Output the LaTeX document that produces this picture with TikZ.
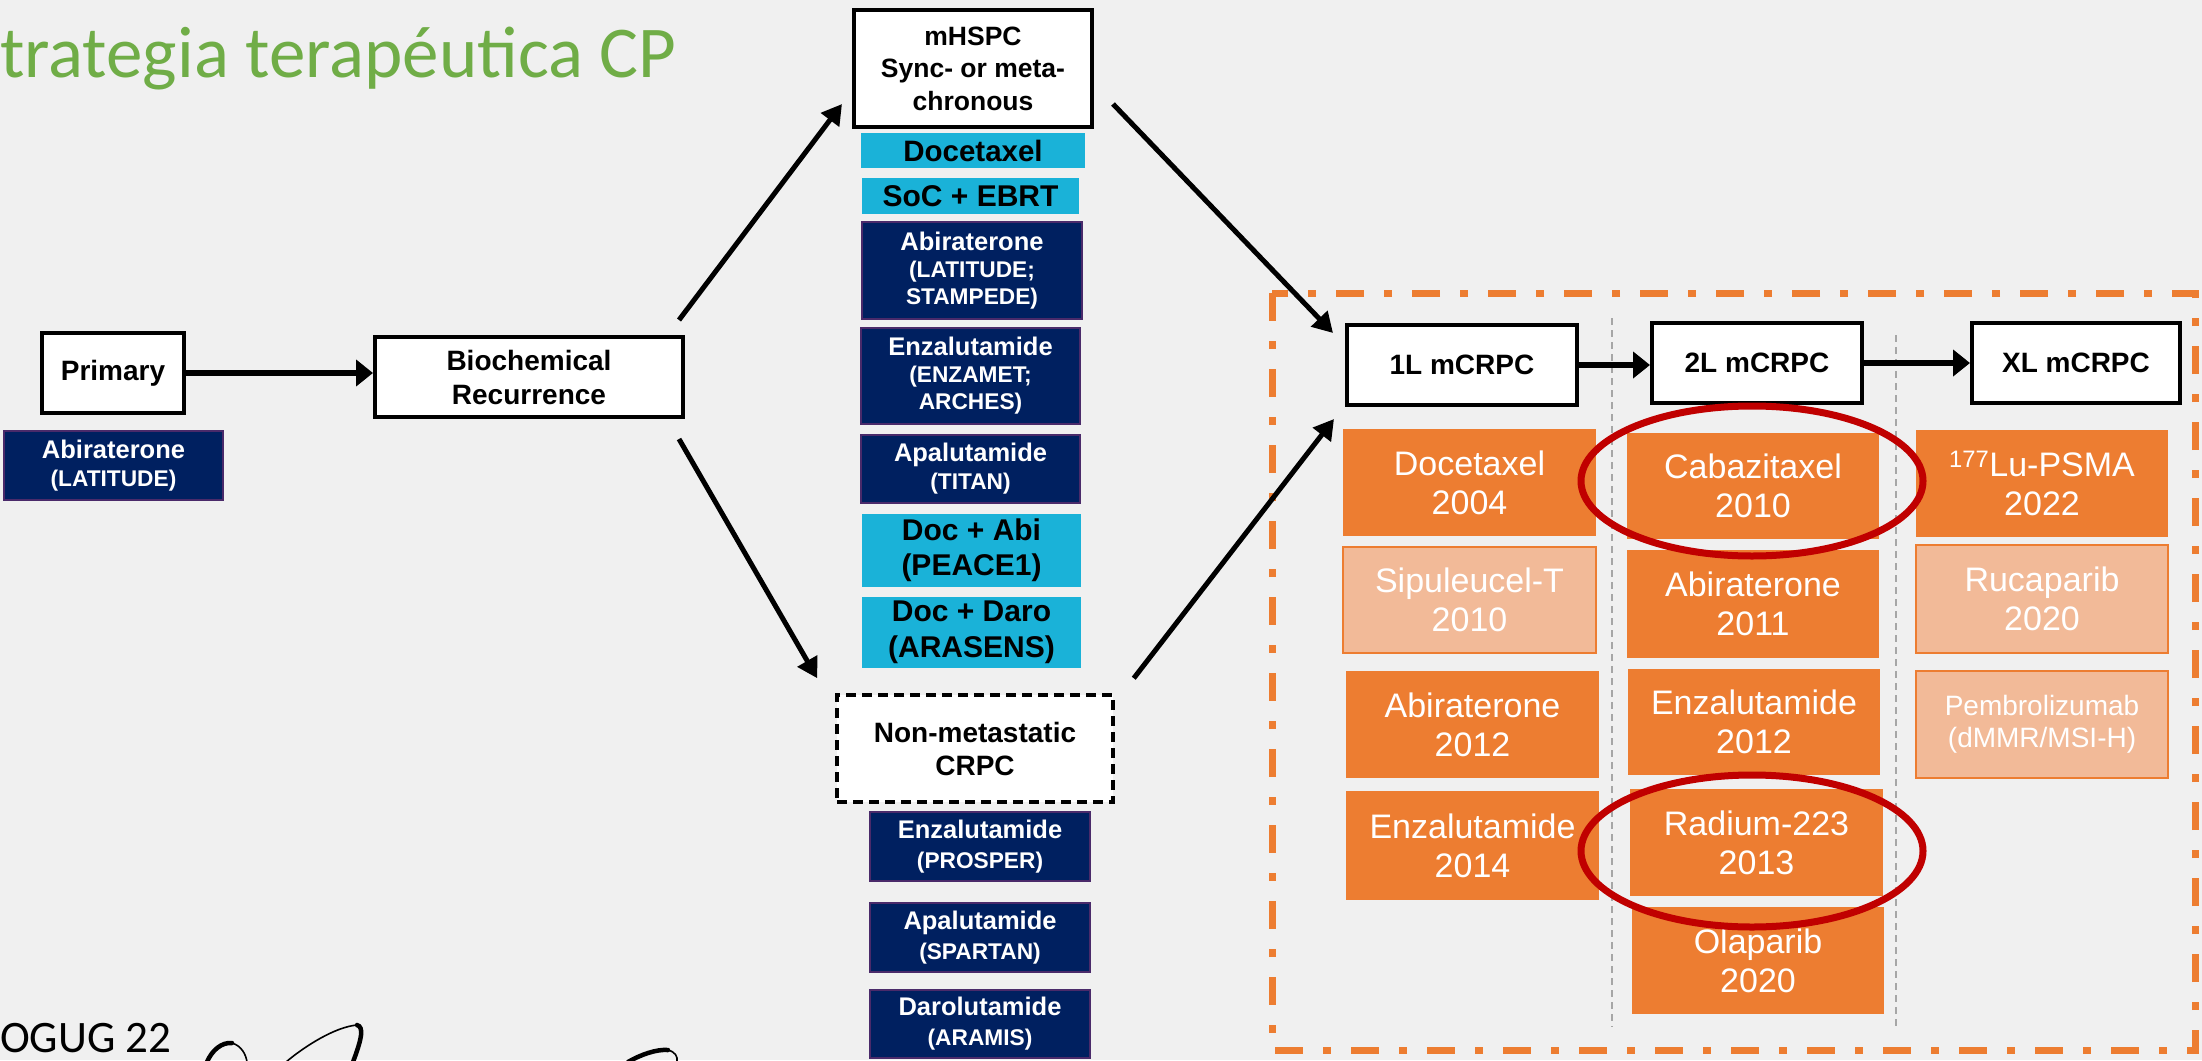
\documentclass[tikz,border=0pt]{standalone}
\usepackage{fontspec}
\setmainfont{Liberation Sans}
\newfontfamily\carlitofont{Carlito}
\usetikzlibrary{arrows.meta,calc}
\definecolor{bg}{HTML}{F0F0F0}
\definecolor{titlegreen}{HTML}{70AD47}
\definecolor{navy}{HTML}{002060}
\definecolor{navyedge}{HTML}{4A2A6A}
\definecolor{cyanc}{HTML}{1AB2D8}
\definecolor{orangec}{HTML}{ED7D31}
\definecolor{lightor}{HTML}{F2BA98}
\definecolor{redc}{HTML}{C00000}
\definecolor{sepgray}{HTML}{A6A6A6}
\tikzset{
  wbox/.style={draw=black, fill=white, line width=4pt, inner sep=0pt, align=center,
    font=\bfseries\fontsize{28}{34}\selectfont},
  navybox/.style={fill=navy, draw=navyedge, line width=1.2pt, text=white, inner sep=0pt,
    align=center, font=\bfseries\fontsize{22.7}{28}\selectfont},
  cyanbox/.style={fill=cyanc, inner sep=0pt, align=center, font=\bfseries\fontsize{30}{36}\selectfont},
  obox/.style={fill=orangec, text=white, inner sep=0pt, align=center, font=\fontsize{34}{39}\selectfont},
  lbox/.style={fill=lightor, draw=orangec, line width=2.5pt, text=white, inner sep=0pt,
    align=center, font=\fontsize{34}{39}\selectfont},
  arr/.style={line width=5pt, -{Triangle[length=20pt,width=22pt]}},
  harr/.style={line width=5.5pt, -{Triangle[length=17pt,width=26pt]}},
  ring/.style={draw=redc, line width=7pt},
  sep/.style={draw=sepgray, line width=2pt, dash pattern=on 7pt off 5pt},
  frame/.style={draw=orangec, line width=7pt, dash pattern=on 28pt off 20pt on 8pt off 20pt},
  sigthin/.style={line width=1.6pt, line cap=round},
  sigthick/.style={line width=4.5pt, line cap=round}
}
\newcommand{\bigline}[1]{{\fontsize{25.5}{28}\selectfont #1}}
\begin{document}
\begin{tikzpicture}[x=1pt,y=-1pt]
\fill[bg] (0,0) rectangle (2202,1060);
\useasboundingbox (0,0) rectangle (2202,1060);

% title and footer
\node[anchor=base west, inner sep=0pt, text=titlegreen, font=\carlitofont\fontsize{73}{80}\selectfont] (title) at (0,77) {trategia terapéutica CP};
\node[anchor=base west, inner sep=0pt, font=\carlitofont\fontsize{45}{50}\selectfont] (foot) at (0,1052) {OGUG 22};

% signature fragments (cut by the lower edge)
\draw[sigthick] (207,1062) .. controls (212,1050) and (222,1042) .. (232,1043);
\draw[sigthin] (232,1043) .. controls (242,1046) and (246,1055) .. (247,1062);
\draw[sigthin] (286,1062) .. controls (305,1046) and (335,1027) .. (357,1025);
\draw[sigthick] (357,1025) .. controls (364,1027) and (362,1038) .. (353,1062);
\draw[sigthick] (628,1062) .. controls (640,1055) and (656,1049) .. (668,1050);
\draw[sigthin] (668,1050) .. controls (675,1052) and (678,1056) .. (677,1062);

% orange frame and separators
\draw[frame] (1272,293) rectangle (2195,1050);
\draw[sep] (1612,318) -- (1612,1027);
\draw[sep] (1896,335) -- (1896,1027);

% left part
\node[wbox, minimum width=142pt, minimum height=80pt] (prim) at (113,373) {Primary};
\node[navybox, minimum width=219pt, minimum height=69pt] (abi0) at (113.5,465.5) {\bigline{Abiraterone}\\(LATITUDE)};
\node[wbox, minimum width=308pt, minimum height=80pt] (bio) at (529,377) {Biochemical\\Recurrence};

% mHSPC column
\node[wbox, minimum width=238pt, minimum height=117pt, font=\bfseries\fontsize{26.5}{32.5}\selectfont] (mhspc) at (973,68.5) {mHSPC\\Sync- or meta-\\chronous};
\node[cyanbox, minimum width=224pt, minimum height=35pt, font=\bfseries\fontsize{29.5}{34}\selectfont] (c1) at (973,150.5) {Docetaxel};
\node[cyanbox, minimum width=217pt, minimum height=36pt] (c2) at (970.5,196) {SoC + EBRT};
\node[navybox, minimum width=220pt, minimum height=97pt, font=\bfseries\fontsize{22.7}{27}\selectfont] (n1) at (972,270.5) {\bigline{Abiraterone}\\(LATITUDE;\\STAMPEDE)};
\node[navybox, minimum width=219pt, minimum height=96pt, font=\bfseries\fontsize{22.7}{27}\selectfont] (n2) at (970.5,376) {\bigline{Enzalutamide}\\(ENZAMET;\\ARCHES)};
\node[navybox, minimum width=219pt, minimum height=68pt] (n3) at (970.5,469) {\bigline{Apalutamide}\\(TITAN)};
\node[cyanbox, minimum width=219pt, minimum height=73pt, font=\bfseries\fontsize{30}{35}\selectfont] (c3) at (971.5,550.5) {Doc + Abi\\(PEACE1)};
\node[cyanbox, minimum width=219pt, minimum height=71pt, font=\bfseries\fontsize{30}{36}\selectfont] (c4) at (971.5,632.5) {Doc + Daro\\(ARASENS)};
\node[wbox, dash pattern=on 10pt off 6pt, line width=3.5pt, minimum width=276pt, minimum height=107pt, font=\bfseries\fontsize{28}{33}\selectfont] (nm) at (975,748.5) {Non-metastatic\\CRPC};
\node[navybox, minimum width=220pt, minimum height=69pt, font=\bfseries\fontsize{22.7}{30}\selectfont] (n4) at (980,846.5) {\bigline{Enzalutamide}\\(PROSPER)};
\node[navybox, minimum width=220pt, minimum height=69pt, font=\bfseries\fontsize{22.7}{30}\selectfont] (n5) at (980,937.5) {\bigline{Apalutamide}\\(SPARTAN)};
\node[navybox, minimum width=220pt, minimum height=68pt, font=\bfseries\fontsize{22.7}{30}\selectfont] (n6) at (980,1024) {\bigline{Darolutamide}\\(ARAMIS)};

% mCRPC lines
\node[wbox, minimum width=230pt, minimum height=80pt] (l1) at (1462,365) {1L mCRPC};
\node[wbox, minimum width=210pt, minimum height=80pt] (l2) at (1757,363) {2L mCRPC};
\node[wbox, minimum width=208pt, minimum height=80pt] (xl) at (2076,363) {XL mCRPC};

\node[obox, minimum width=253pt, minimum height=107pt] (o11) at (1469.5,482.5) {Docetaxel\\2004};
\node[lbox, minimum width=253pt, minimum height=106pt] (o12) at (1469.5,600) {Sipuleucel-T\\2010};
\node[obox, minimum width=253pt, minimum height=107pt] (o13) at (1472.5,724.5) {Abiraterone\\2012};
\node[obox, minimum width=253pt, minimum height=109pt] (o14) at (1472.5,845.5) {Enzalutamide\\2014};

\node[obox, minimum width=252pt, minimum height=106pt] (o21) at (1753,486) {Cabazitaxel\\2010};
\node[obox, minimum width=252pt, minimum height=108pt] (o22) at (1753,604) {Abiraterone\\2011};
\node[obox, minimum width=252pt, minimum height=106pt] (o23) at (1754,722) {Enzalutamide\\2012};
\node[obox, minimum width=253pt, minimum height=107pt] (o24) at (1756.5,842.5) {Radium-223\\2013};
\node[obox, minimum width=252pt, minimum height=107pt] (o25) at (1758,960.5) {Olaparib\\2020};

\node[obox, minimum width=252pt, minimum height=107pt] (o31) at (2042,483.5) {\textsuperscript{177}Lu-PSMA\\2022};
\node[lbox, minimum width=252pt, minimum height=108pt] (o32) at (2042,599) {Rucaparib\\2020};
\node[lbox, minimum width=252pt, minimum height=107pt, font=\fontsize{28}{32}\selectfont] (o33) at (2042,724.5) {Pembrolizumab\\(dMMR/MSI-H)};

% connectors
\draw[harr] (prim.east) -- (prim.east -| bio.west);
\draw[arr] ([shift={(-6,-15)}]bio.north east) -- ([shift={(-10,-25)}]mhspc.south west);
\draw[arr] ([shift={(-6,20)}]bio.south east) -- ([shift={(-18,-15)}]nm.north west);
\draw[arr] ([shift={(19,-25)}]mhspc.south east) -- ([shift={(-12,10)}]l1.north west);
\draw[arr] ([shift={(19,-15)}]nm.north east) -- ([shift={(-11,12)}]l1.south west);
\draw[harr] (l1.east) -- (l1.east -| l2.west);
\draw[harr] (l2.east) -- (l2.east -| xl.west);

% highlight rings
\draw[ring] (1752,481) ellipse [x radius=171, y radius=75];
\draw[ring] (1752,851) ellipse [x radius=171, y radius=76];
\end{tikzpicture}
\end{document}
